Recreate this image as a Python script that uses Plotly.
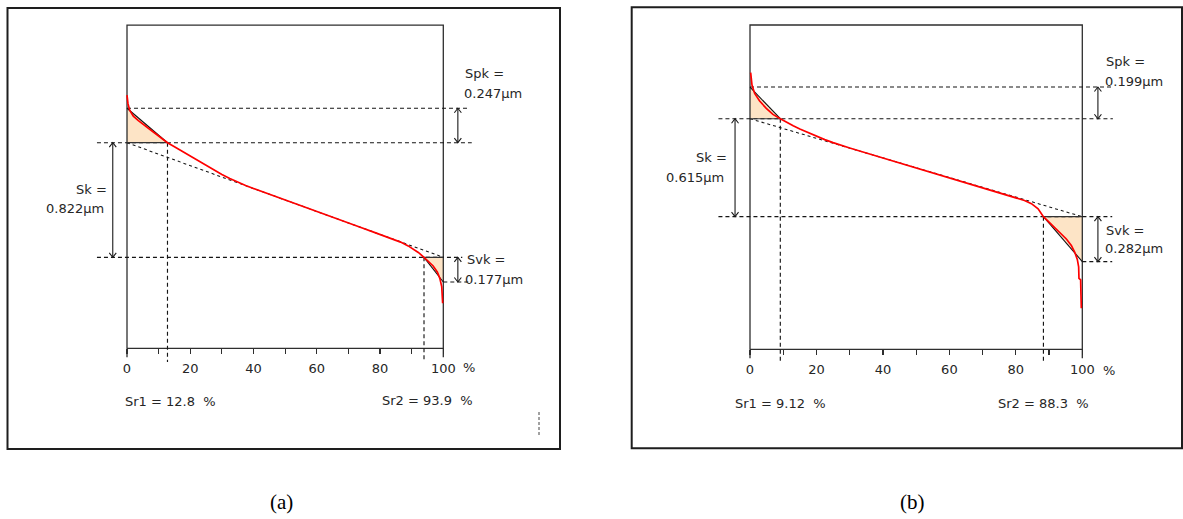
import plotly.graph_objects as go

W, H = 1183, 519

# ---------------- data ----------------
# (a) Abbott-Firestone (areal material ratio) curve: material ratio in %, height in µm
#     (heights measured from the lower limit of the core)
pct_a = [0.0, 0.3, 0.84, 2.0, 3.6, 5.7, 7.8, 9.9, 12.8, 15.0, 17.5, 20.0, 22.5, 25.0, 27.5,
         30.0, 32.5, 35.0, 37.5, 40.0, 46.8, 52.0, 57.3, 62.6, 67.9, 73.1, 78.4, 83.7, 86.5,
         88.9, 92.1, 93.9, 95.3, 96.8, 98.1, 98.9, 99.5, 99.7, 99.8]
height_a = [1.164, 1.104, 1.056, 1.013, 0.980, 0.941, 0.908, 0.872, 0.822, 0.793, 0.759, 0.726,
            0.692, 0.659, 0.626, 0.594, 0.565, 0.538, 0.515, 0.494, 0.439, 0.395, 0.351, 0.307,
            0.264, 0.221, 0.177, 0.134, 0.109, 0.082, 0.035, 0.0, -0.028, -0.062, -0.105,
            -0.151, -0.210, -0.258, -0.330]
sr1_a, sr2_a = 12.8, 93.9
spk_a, sk_a, svk_a = 0.247, 0.822, 0.177

# (b)
pct_b = [0.2, 0.6, 1.4, 2.9, 4.9, 6.9, 9.12, 11.0, 13.0, 15.0, 17.5, 20.0, 22.5, 25.0, 27.5,
         30.0, 35.0, 45.0, 55.0, 65.0, 72.0, 79.6, 82.6, 84.7, 86.7, 88.3, 90.7, 93.2, 95.2,
         96.7, 97.7, 98.5, 98.9, 99.0, 99.5, 99.6, 99.7]
height_b = [0.904, 0.826, 0.774, 0.726, 0.680, 0.642, 0.615, 0.592, 0.571, 0.551, 0.527, 0.505,
            0.484, 0.465, 0.447, 0.431, 0.400, 0.338, 0.277, 0.215, 0.172, 0.124, 0.102, 0.082,
            0.050, 0.0, -0.050, -0.098, -0.140, -0.180, -0.222, -0.268, -0.314, -0.387, -0.397,
            -0.492, -0.575]
sr1_b, sr2_b = 9.12, 88.3
spk_b, sk_b, svk_b = 0.199, 0.615, 0.282

tick_vals = [0, 10, 20, 30, 40, 50, 60, 70, 80, 90, 100]
tick_text = ["0", "", "20", "", "40", "", "60", "", "80", "", "100"]
panel_labels = ["(a)", "(b)"]

# ---------------- styling / layout constants ----------------
PEACH = "#FDE4C6"
INK = "#151515"
TXT = "#262626"
FONT = "DejaVu Sans"

panels = [
    dict(pct=pct_a, h=height_a, sr1=sr1_a, sr2=sr2_a, spk=spk_a, sk=sk_a, svk=svk_a,
         xa="x", ya="y", xkey="xaxis", ykey="yaxis",
         x0px=127.0, ppx=3.163, y0px=257.3, ppy=139.4,
         xr=[-12, 112], yr=[-0.80, 1.70], box=(-0.653, 1.666),
         guide_lo=-9.5, spk_end=108.0, skt_end=109.0, skb_end=106.0, svk_end=108.0,
         arrow_x=104.6, sk_arrow_x=-4.5, sr_bottom=-0.751,
         spk_txt=(463, 74), sk_txt=(74, 189), sk_val=(44, 208), svk_txt=(465, 259),
         svk_val=(463, 279), sr1_txt=(123, 401), sr2_txt=(380, 400), pc_txt=(461, 367),
         lab=(281, 502), frame=(7.5, 8, 560, 449)),
    dict(pct=pct_b, h=height_b, sr1=sr1_b, sr2=sr2_b, spk=spk_b, sk=sk_b, svk=svk_b,
         xa="x2", ya="y2", xkey="xaxis2", ykey="yaxis2",
         x0px=750.0, ppx=3.323, y0px=216.7, ppy=159.3,
         xr=[-12, 112], yr=[-0.93, 1.25], box=(-0.8324, 1.2034),
         guide_lo=-9.5, spk_end=109.0, skt_end=109.2, skb_end=109.0, svk_end=109.0,
         arrow_x=104.7, sk_arrow_x=-4.5, sr_bottom=-0.906,
         spk_txt=(1104, 62), sk_txt=(694, 157), sk_val=(664, 177), svk_txt=(1104, 230),
         svk_val=(1103, 249), sr1_txt=(733, 403), sr2_txt=(996, 403), pc_txt=(1101, 370),
         lab=(912.7, 502), frame=(631.7, 7.3, 1182, 448.3)),
]


def px(x):
    return x / W


def py(y):
    return 1 - y / H


fig = go.Figure()
annotations = []
shapes = []
layout_axes = {}

for P in panels:
    xa, ya = P["xa"], P["ya"]
    sk, spk, svk, sr1, sr2 = P["sk"], P["spk"], P["svk"], P["sr1"], P["sr2"]
    bot, top = P["box"]

    def line(x, y, color=INK, width=1, dash="solid"):
        fig.add_trace(go.Scatter(x=x, y=y, xaxis=xa, yaxis=ya, mode="lines",
                                 line=dict(color=color, width=width, dash=dash),
                                 hoverinfo="skip", showlegend=False))

    # fills (peak and valley triangles)
    fig.add_trace(go.Scatter(x=[0, 0, sr1, 0], y=[sk, sk + spk, sk, sk], xaxis=xa, yaxis=ya,
                             mode="lines", fill="toself", fillcolor=PEACH,
                             line=dict(width=0, color=PEACH), hoverinfo="skip", showlegend=False))
    fig.add_trace(go.Scatter(x=[sr2, 100, 100, sr2], y=[0, 0, -svk, 0], xaxis=xa, yaxis=ya,
                             mode="lines", fill="toself", fillcolor=PEACH,
                             line=dict(width=0, color=PEACH), hoverinfo="skip", showlegend=False))

    # plot box
    ext = 9.0 / P["ppy"]
    line([0, 100, 100, 0, 0], [bot, bot, top, top, bot], color="#2e2e2e", width=1.3)
    line([0, 0, None, 100, 100], [bot, bot - ext, None, bot, bot - ext], color="#2e2e2e", width=1.3)

    # dashed guide lines
    g = "4px,3px"
    gw = 1.15
    line([0, P["spk_end"]], [sk + spk, sk + spk], dash=g, width=gw)
    line([P["guide_lo"], P["skt_end"]], [sk, sk], dash=g, width=gw)
    line([P["guide_lo"], P["skb_end"]], [0, 0], dash=g, width=gw)
    line([100, P["svk_end"]], [-svk, -svk], dash=g, width=gw)
    line([sr1, sr1], [sk, P["sr_bottom"]], dash=g, width=gw)
    line([sr2, sr2], [0, P["sr_bottom"]], dash=g, width=gw)
    # equivalent straight line of the core
    line([0, 100], [sk, 0], dash="3px,3px", width=1.05)

    # solid triangle edges
    line([0, sr1], [sk, sk], color="#333333", width=1.2)
    line([0, sr1], [sk + spk, sk], color="#111111", width=1.1)
    line([sr2, 100], [0, 0], color="#333333", width=1.2)
    line([sr2, 100], [0, -svk], color="#111111", width=1.1)

    # material ratio curve
    line(P["pct"], P["h"], color="#FF0000", width=1.7)

    # double-headed arrows with open heads
    hw = 3.5 / P["ppx"]
    hh = 4.5 / P["ppy"]

    def arrow(xc, y1, y2):
        xs = [xc, xc, None, xc - hw, xc, xc + hw, None, xc - hw, xc, xc + hw]
        ys = [y1, y2, None, y2 - hh, y2, y2 - hh, None, y1 + hh, y1, y1 + hh]
        line(xs, ys, color="#1a1a1a", width=1.1)

    arrow(P["arrow_x"], sk, sk + spk)
    arrow(P["sk_arrow_x"], 0, sk)
    arrow(P["arrow_x"], -svk, 0)

    # axes
    xd = [(P["x0px"] + P["xr"][0] * P["ppx"]) / W, (P["x0px"] + P["xr"][1] * P["ppx"]) / W]
    yd = [1 - (P["y0px"] - P["yr"][0] * P["ppy"]) / H, 1 - (P["y0px"] - P["yr"][1] * P["ppy"]) / H]
    box_bottom_paper = 1 - (P["y0px"] - bot * P["ppy"]) / H
    layout_axes[P["xkey"]] = dict(
        domain=xd, range=P["xr"], anchor="free", position=box_bottom_paper,
        showline=False, showgrid=False, zeroline=False,
        tickmode="array", tickvals=tick_vals, ticktext=tick_text,
        ticks="outside", ticklen=5, tickwidth=1.2, tickcolor="#2e2e2e",
        ticklabelstandoff=3,
        tickfont=dict(family=FONT, size=13, color=TXT), fixedrange=True)
    layout_axes[P["ykey"]] = dict(domain=yd, range=P["yr"], visible=False,
                                  anchor=xa, fixedrange=True)

    # text
    def txt(s, pos, anchor="left", size=13, family=FONT, color=TXT):
        annotations.append(dict(text=s, x=px(pos[0]), y=py(pos[1]), xref="paper", yref="paper",
                                xanchor=anchor, yanchor="middle", showarrow=False,
                                font=dict(family=family, size=size, color=color)))

    txt("Spk =", P["spk_txt"])
    txt(f"{spk:.3f}µm", (P["spk_txt"][0] - 1, P["spk_txt"][1] + 19.5))
    txt("Sk =", P["sk_txt"])
    txt(f"{sk:.3f}µm", P["sk_val"])
    txt("Svk =", P["svk_txt"])
    txt(f"{svk:.3f}µm", P["svk_val"])
    txt(f"Sr1 = {sr1}\u00a0 %", P["sr1_txt"])
    txt(f"Sr2 = {sr2}\u00a0 %", P["sr2_txt"])
    txt("%", P["pc_txt"])

    # outer frame
    fx0, fy0, fx1, fy1 = P["frame"]
    shapes.append(dict(type="rect", xref="paper", yref="paper", x0=px(fx0), x1=px(fx1),
                       y0=py(fy1), y1=py(fy0), line=dict(color="#1e1e1e", width=2)))

for P, lab in zip(panels, panel_labels):
    annotations.append(dict(text=lab, x=px(P["lab"][0]), y=py(P["lab"][1]), xref="paper",
                            yref="paper", xanchor="center", yanchor="middle", showarrow=False,
                            font=dict(family="Liberation Serif", size=21, color="#000000")))

# small dashed mark at the bottom right of panel (a)
shapes.append(dict(type="line", xref="paper", yref="paper", x0=px(539), x1=px(539),
                   y0=py(435), y1=py(412), line=dict(color="#444444", width=1, dash="3px,2px")))

fig.update_layout(
    width=W, height=H, autosize=False,
    margin=dict(l=0, r=0, t=0, b=0, pad=0),
    paper_bgcolor="white", plot_bgcolor="rgba(0,0,0,0)",
    showlegend=False, annotations=annotations, shapes=shapes,
    **layout_axes,
)

fig.write_html("out.html", config={"displayModeBar": False, "staticPlot": True},
               post_script="document.body.style.margin='0';document.body.style.overflow='hidden';")
